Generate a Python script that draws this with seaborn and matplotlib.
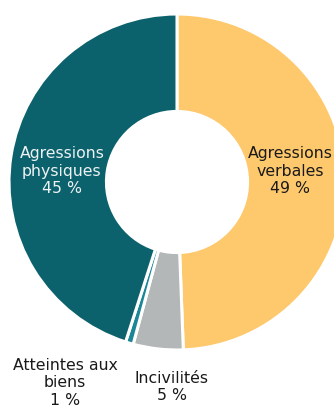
import matplotlib
matplotlib.use("Agg")
import matplotlib.pyplot as plt
import seaborn as sns

categories = ["Agressions\nverbales", "Incivilités", "Atteintes aux\nbiens", "Agressions\nphysiques"]
shares = [49.4, 4.8, 0.75, 45.05]          # wedge sizes
label_values = [49, 5, 1, 45]               # printed percentages
colors = ["#FEC86C", "#B4B7B7", "#1B8796", "#0B626D"]
label_colors = ["#1a1a1a", "#1a1a1a", "#1a1a1a", "#eef2f3"]
# label positions (data coords, pie radius 1)
label_pos = [(0.675, 0.07), (-0.03, -1.215), (-0.667, -1.19), (-0.685, 0.07)]

sns.set_style("white")
plt.rcParams["font.family"] = ["DejaVu Sans"]

fig = plt.figure(figsize=(3.34, 4.10), dpi=100)
ax = fig.add_axes([9 / 334, (410 - 351) / 410, 336 / 334, 336 / 410])
ax.pie(shares, colors=colors, startangle=90, counterclock=False,
       wedgeprops=dict(width=0.58, edgecolor="white", linewidth=2.2))
ax.set_xlim(-1, 1)
ax.set_ylim(-1, 1)
ax.set_aspect("auto")
ax.axis("off")

for cat, v, (x, y), c in zip(categories, label_values, label_pos, label_colors):
    ax.text(x, y, f"{cat}\n{v} %", ha="center", va="center", fontsize=11.3,
            color=c, linespacing=1.2, clip_on=False)

fig.savefig("out.png", dpi=100)
